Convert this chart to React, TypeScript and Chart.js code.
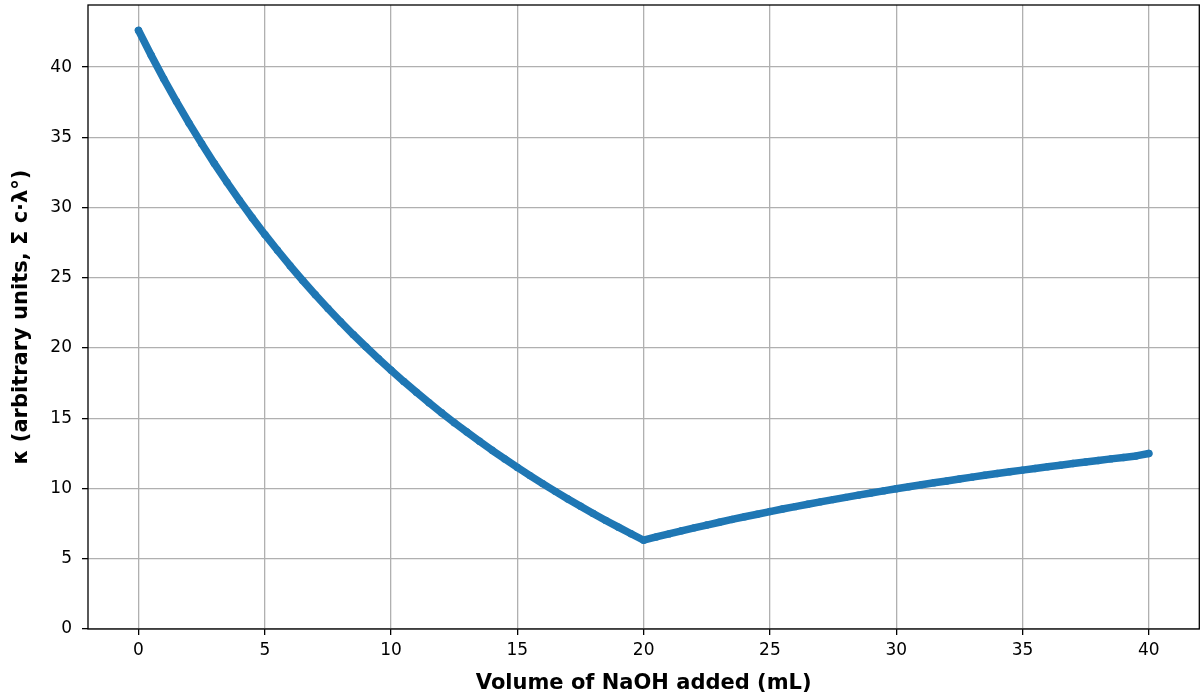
import React, { useEffect, useRef } from "react";
import { Chart, registerables } from "chart.js";

Chart.register(...registerables);

// Volume of NaOH added (mL)
const volumes: number[] = [
  0, 0.5, 1, 1.5, 2, 2.5, 3, 3.5, 4, 4.5, 5, 5.5, 6, 6.5, 7, 7.5, 8, 8.5, 9, 9.5,
  10, 10.5, 11, 11.5, 12, 12.5, 13, 13.5, 14, 14.5, 15, 15.5, 16, 16.5, 17, 17.5, 18, 18.5, 19, 19.5,
  20, 20.5, 21, 21.5, 22, 22.5, 23, 23.5, 24, 24.5, 25, 25.5, 26, 26.5, 27, 27.5, 28, 28.5, 29, 29.5,
  30, 30.5, 31, 31.5, 32, 32.5, 33, 33.5, 34, 34.5, 35, 35.5, 36, 36.5, 37, 37.5, 38, 38.5, 39, 39.5, 40,
];

// Conductivity κ (arbitrary units)
const kappa: number[] = [
  42.61, 40.84, 39.15, 37.55, 36.01, 34.55, 33.14, 31.8, 30.51, 29.28,
  28.09, 26.96, 25.86, 24.81, 23.79, 22.82, 21.87, 20.96, 20.09, 19.24,
  18.42, 17.62, 16.86, 16.11, 15.39, 14.69, 14.02, 13.36, 12.72, 12.11,
  11.5, 10.92, 10.35, 9.8, 9.26, 8.74, 8.23, 7.73, 7.25, 6.78,
  6.32, 6.55, 6.77, 6.99, 7.2, 7.4, 7.6, 7.8, 7.99, 8.17,
  8.36, 8.54, 8.71, 8.88, 9.05, 9.21, 9.37, 9.53, 9.68, 9.83,
  9.98, 10.13, 10.27, 10.41, 10.54, 10.68, 10.81, 10.94, 11.07, 11.19,
  11.31, 11.43, 11.55, 11.66, 11.78, 11.89, 12.0, 12.11, 12.21, 12.32, 12.49,
];

const xTicks: number[] = [0, 5, 10, 15, 20, 25, 30, 35, 40];
const yTicks: number[] = [0, 5, 10, 15, 20, 25, 30, 35, 40];

const xTitle = "Volume of NaOH added (mL)";
const yTitle = "κ (arbitrary units, Σ c·λ°)";

const FONT = "'DejaVu Sans', sans-serif";

const framePlugin = {
  id: "frame",
  afterDraw(chart: any) {
    const { ctx, chartArea } = chart;
    ctx.save();
    ctx.strokeStyle = "#000";
    ctx.lineWidth = 1.3;
    ctx.strokeRect(
      chartArea.left,
      chartArea.top,
      chartArea.right - chartArea.left,
      chartArea.bottom - chartArea.top
    );
    ctx.restore();
  },
};

export default function App() {
  const ref = useRef<HTMLCanvasElement | null>(null);

  useEffect(() => {
    if (!ref.current) return;
    const chart = new Chart(ref.current, {
      type: "line",
      data: {
        datasets: [
          {
            data: volumes.map((v, i) => ({ x: v, y: kappa[i] })),
            borderColor: "#1f77b4",
            backgroundColor: "#1f77b4",
            borderWidth: 7.5,
            borderCapStyle: "round",
            borderJoinStyle: "round",
            pointRadius: 3.7,
            pointBorderWidth: 0,
            pointHoverRadius: 3.7,
            tension: 0,
          },
        ],
      },
      options: {
        animation: false,
        responsive: false,
        events: [],
        layout: { padding: { left: 0, right: 3, top: 5, bottom: 0 } },
        plugins: {
          legend: { display: false },
          tooltip: { enabled: false },
        },
        scales: {
          x: {
            type: "linear",
            min: -2,
            max: 42,
            afterBuildTicks: (axis: any) => {
              axis.ticks = xTicks.map((v) => ({ value: v }));
            },
            afterFit: (axis: any) => {
              axis.height = 71;
              axis.paddingLeft = 0;
              axis.paddingRight = 0;
            },
            border: { display: false },
            grid: {
              color: "#b0b0b0",
              lineWidth: 1.3,
              drawTicks: true,
              tickLength: 6,
              tickColor: "#000",
              tickWidth: 1.3,
            },
            ticks: {
              color: "#000",
              padding: 5,
              maxRotation: 0,
              font: { family: FONT, size: 17 },
            },
            title: {
              display: true,
              text: xTitle,
              color: "#000",
              padding: { top: 0, bottom: 4 },
              font: { family: FONT, size: 21, weight: "bold" },
            },
          },
          y: {
            type: "linear",
            min: 0,
            max: 44.42,
            afterBuildTicks: (axis: any) => {
              axis.ticks = yTicks.map((v) => ({ value: v }));
            },
            afterFit: (axis: any) => {
              axis.width = 88;
              axis.paddingTop = 0;
              axis.paddingBottom = 0;
            },
            border: { display: false },
            grid: {
              color: "#b0b0b0",
              lineWidth: 1.3,
              drawTicks: true,
              tickLength: 6,
              tickColor: "#000",
              tickWidth: 1.3,
            },
            ticks: {
              color: "#000",
              padding: 10,
              font: { family: FONT, size: 17 },
            },
            title: {
              display: true,
              text: yTitle,
              color: "#000",
              padding: { top: 9, bottom: 0 },
              font: { family: FONT, size: 21, weight: "bold" },
            },
          },
        },
      },
      plugins: [framePlugin],
    } as any);
    return () => chart.destroy();
  }, []);

  return (
    <div style={{ position: "fixed", left: 0, top: 0, width: 1203, height: 700, background: "#fff" }}>
      <canvas ref={ref} width={1203} height={700} style={{ display: "block", width: 1203, height: 700 }} />
    </div>
  );
}
